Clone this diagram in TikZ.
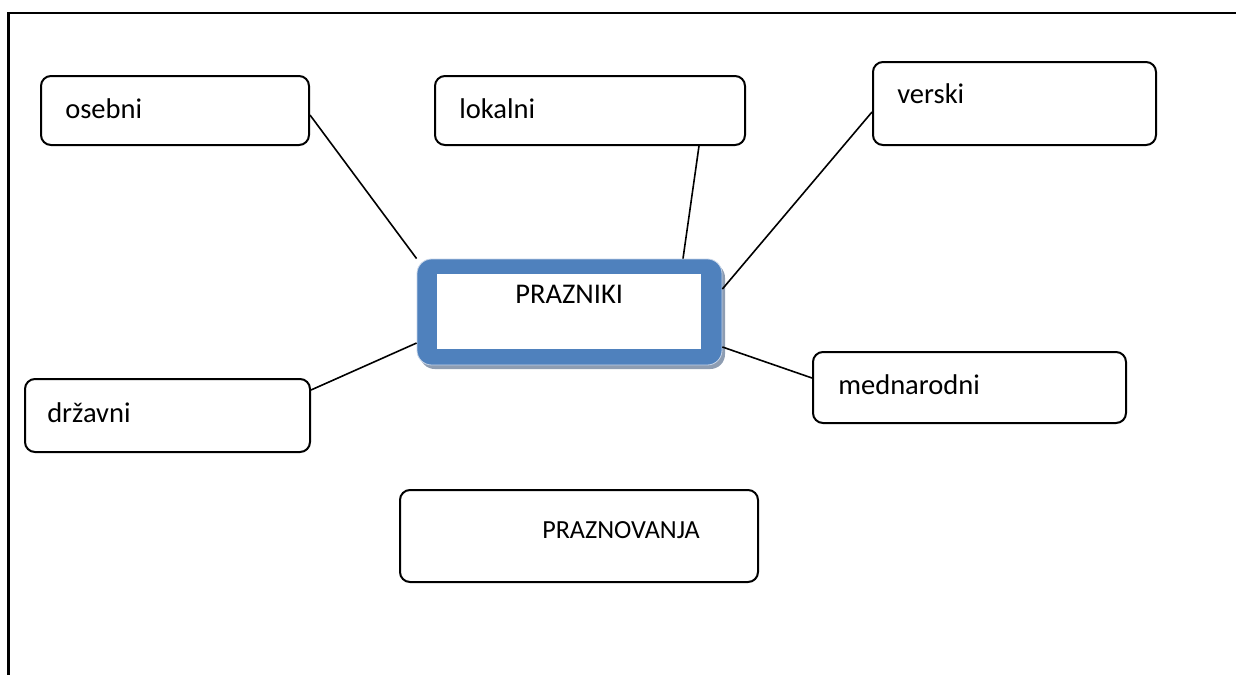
\documentclass[tikz,border=0pt]{standalone}
\usepackage{fontspec}
\setmainfont{Carlito}
\usetikzlibrary{calc}
\definecolor{hubblue}{HTML}{4F81BD}
\definecolor{hubshadow}{HTML}{8E9DB2}
\definecolor{hubedge}{HTML}{C6D4E8}
\tikzset{
  leaf/.style={draw=black, line width=1.5pt, rounded corners=7.5pt, fill=white, inner sep=0pt},
  leaftext/.style={inner sep=0pt, anchor=base west, font=\fontsize{21.4}{25}\selectfont},
  smalltext/.style={inner sep=0pt, anchor=base west, font=\fontsize{19.6}{23}\selectfont},
  link/.style={draw=black, line width=1.2pt},
  frameline/.style={draw=black, line width=1.9pt}
}
\begin{document}
\begin{tikzpicture}[x=0.75pt,y=-0.75pt]
\useasboundingbox (0,0) rectangle (1236,675);
% frame
\coordinate (fl) at (8.5,675);
\coordinate (fc) at (8.5,13);
\coordinate (fr) at (1236,13);
\draw[frameline] (fl) -- (fc) -- (fr);

% hub
\fill[hubshadow, rounded corners=11pt] (420,263) rectangle (725,369);
\node[draw=hubedge, line width=0.6pt, fill=hubblue, rounded corners=11pt, minimum width=228.75pt, minimum height=79.5pt, inner sep=0pt] (hub) at (569.5,312) {};
\node[fill=white, inner sep=0pt, minimum width=198pt, minimum height=56.25pt] (hubin) at (569,311.5) {};
\node[leaftext] (hubt) at (515,303) {PRAZNIKI};

% leaves
\node[leaf, minimum width=201pt, minimum height=51.75pt] (osebni) at (175,110.5) {};
\node[leaftext] at (65,118) {osebni};

\node[leaf, minimum width=232.5pt, minimum height=51.75pt] (lokalni) at (590,110.5) {};
\node[leaftext] at (459,118) {lokalni};

\node[leaf, minimum width=212.25pt, minimum height=62.25pt] (verski) at (1014.5,103.5) {};
\node[leaftext] at (897,103) {verski};

\node[leaf, minimum width=213.75pt, minimum height=54.75pt] (drzavni) at (167.5,415.5) {};
\node[leaftext] at (47,422) {državni};

\node[leaf, minimum width=234.75pt, minimum height=53.25pt] (mednar) at (969.5,387.5) {};
\node[leaftext] at (838,394) {mednarodni};

\node[leaf, minimum width=268.5pt, minimum height=69pt] (prazn) at (579,536) {};
\node[smalltext] at (542,538) {PRAZNOVANJA};

% connectors
\draw[link] ($(osebni.east)+(0,4.5)$) -- (hub.north west);
\draw[link] ($(lokalni.south)+(109,0)$) -- ($(hub.north)+(113.5,0)$);
\draw[link] ($(verski.west)+(0,8.5)$) -- ($(hub.east)+(0,-23)$);
\draw[link] ($(drzavni.east)+(0,-25.5)$) -- ($(hub.west)+(0,31)$);
\draw[link] ($(hub.east)+(0,35)$) -- ($(mednar.west)+(0,-9.5)$);
\end{tikzpicture}
\end{document}
